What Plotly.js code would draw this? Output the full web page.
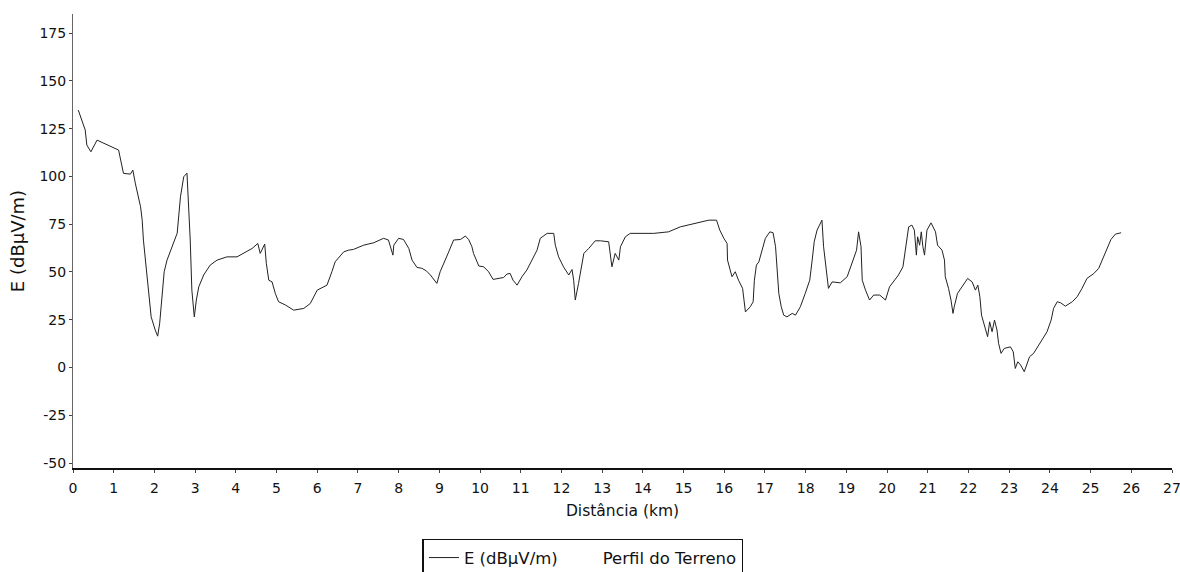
<!DOCTYPE html>
<html>
<head>
<meta charset="utf-8">
<script src="https://cdn.plot.ly/plotly-3.0.1.min.js"></script>
<style>html,body{margin:0;padding:0;background:#fff;}#chart{width:1180px;height:572px;}</style>
</head>
<body>
<div id="chart"></div>
<script>
const distKm = [
  0.13,0.22,0.30,0.34,0.44,0.59,1.12,1.24,1.41,1.47,1.53,1.66,1.70,1.73,1.80,1.86,1.92,2.02,2.08,2.13,
  2.19,2.24,2.31,2.43,2.56,2.64,2.72,2.80,2.84,2.88,2.92,2.98,3.03,3.09,3.21,3.37,3.54,3.78,4.03,4.19,
  4.40,4.54,4.60,4.71,4.75,4.81,4.89,4.97,5.05,5.22,5.42,5.67,5.83,6.00,6.24,6.36,6.44,6.65,6.77,6.89,
  7.14,7.39,7.63,7.75,7.86,7.88,8.00,8.12,8.25,8.33,8.45,8.57,8.68,8.78,8.94,9.02,9.15,9.23,9.35,9.52,
  9.64,9.72,9.80,9.84,9.97,10.09,10.21,10.32,10.58,10.66,10.74,10.81,10.91,11.03,11.15,11.28,11.40,11.48,11.65,11.81,
  11.85,11.93,12.05,12.18,12.26,12.30,12.34,12.42,12.48,12.55,12.67,12.83,12.96,13.16,13.24,13.32,13.41,13.45,13.57,13.69,
  14.27,14.63,14.92,15.33,15.62,15.81,15.89,15.99,16.07,16.08,16.19,16.27,16.35,16.45,16.48,16.52,16.64,16.71,16.74,16.79,
  16.85,16.93,17.01,17.12,17.20,17.26,17.30,17.34,17.40,17.46,17.54,17.67,17.75,17.87,17.99,18.10,18.16,18.21,18.28,18.40,
  18.44,18.51,18.56,18.65,18.85,19.02,19.14,19.25,19.30,19.36,19.39,19.47,19.57,19.67,19.82,19.96,20.06,20.16,20.28,20.39,
  20.45,20.53,20.61,20.67,20.72,20.75,20.80,20.84,20.88,20.92,20.98,21.08,21.19,21.24,21.35,21.41,21.43,21.51,21.57,21.62,
  21.65,21.73,21.84,21.98,22.09,22.17,22.23,22.28,22.32,22.37,22.41,22.47,22.52,22.58,22.64,22.70,22.74,22.80,22.88,23.03,
  23.10,23.13,23.15,23.21,23.28,23.37,23.50,23.60,23.76,23.93,24.03,24.09,24.18,24.26,24.38,24.55,24.67,24.79,24.91,25.08,
  25.20,25.28,25.41,25.50,25.61,25.75
];
const fieldE = [
  134.7,129.5,124.3,116.4,112.9,119.0,113.8,101.6,101.2,103.3,96.5,84.1,77.1,66.7,51.0,38.9,26.5,19.6,16.4,23.2,
  40.5,50.1,56.2,63.2,70.3,89.3,99.8,101.7,84.1,66.7,40.5,26.5,35.3,42.2,48.4,53.6,56.2,57.9,57.9,59.7,
  62.3,64.9,59.7,64.6,54.5,45.7,44.8,38.8,34.4,32.7,30.0,30.9,33.5,40.5,43.1,50.1,55.3,60.5,61.4,61.8,
  64.0,65.3,67.6,66.7,58.8,64.0,67.6,67.0,62.3,56.2,52.4,51.9,50.6,48.4,44.0,50.1,57.1,60.5,66.7,67.0,
  68.8,67.0,63.2,59.7,53.1,52.7,50.1,46.1,47.1,48.9,49.2,45.7,43.1,47.5,51.0,56.2,61.4,67.6,70.2,70.2,
  64.0,57.9,52.7,48.4,51.3,45.7,35.3,44.0,51.0,59.7,62.3,66.3,66.3,65.8,52.7,59.7,56.2,63.2,68.4,70.2,
  70.2,71.0,73.6,75.7,77.1,77.1,71.9,67.6,64.9,56.2,47.5,50.1,45.7,41.4,35.3,29.1,31.8,34.4,45.7,53.6,
  55.3,61.4,67.6,71.0,70.5,63.2,47.5,38.8,31.8,27.4,26.5,28.3,27.4,31.8,38.8,45.7,56.2,65.8,71.9,77.1,
  63.2,49.2,41.4,44.8,44.3,47.5,54.5,61.4,71.0,63.2,45.7,40.5,35.3,37.9,37.9,35.3,42.2,44.8,48.4,52.7,
  61.4,73.6,74.5,71.9,58.8,68.4,64.0,71.0,63.2,58.8,71.9,75.7,71.0,64.0,61.4,56.2,47.5,41.4,35.3,28.3,
  31.8,38.8,42.2,46.6,44.8,40.5,43.1,37.0,27.4,23.9,21.3,16.1,23.9,18.7,24.8,19.6,12.6,7.4,10.0,10.8,
  8.2,3.9,-0.5,3.0,1.3,-2.2,5.6,7.4,12.6,18.7,24.8,30.9,34.4,33.9,32.1,34.4,37.0,41.4,46.6,49.2,
  51.9,56.2,62.3,67.0,69.8,70.5
];
const seriesNames = ["E (dBµV/m)", "Perfil do Terreno"];
const yTickVals = [-50, -25, 0, 25, 50, 75, 100, 125, 150, 175];
const yTickText = ["-50", "-25", "0", "25", "50", "75", "100", "125", "150", "175"];
const xTickVals = [0,1,2,3,4,5,6,7,8,9,10,11,12,13,14,15,16,17,18,19,20,21,22,23,24,25,26,27];

const font = "DejaVu Sans, Arial, sans-serif";
const traces = [
  {x: distKm, y: fieldE, type: "scatter", mode: "lines", name: seriesNames[0],
   line: {color: "#222", width: 1}},
  {x: [null], y: [null], type: "scatter", mode: "lines", name: seriesNames[1],
   line: {color: "rgba(0,0,0,0)", width: 1}}
];
const layout = {
  width: 1180, height: 572,
  margin: {l: 73, r: 8, t: 14, b: 104},
  paper_bgcolor: "#fff", plot_bgcolor: "#fff",
  font: {family: font, size: 14, color: "#111"},
  showlegend: true,
  xaxis: {
    range: [0, 27], tickvals: xTickVals, showgrid: false, zeroline: false,
    showline: true, linecolor: "#111", linewidth: 1.5,
    ticks: "outside", ticklen: 3, tickcolor: "#444",
    ticklabelstandoff: 4, ticklabeloverflow: "allow",
    automargin: false,
    tickfont: {family: font, size: 14, color: "#111"},
    title: {text: "Distância (km)", font: {family: font, size: 15.5, color: "#111"}, standoff: 10}
  },
  yaxis: {
    range: [-52.6, 185], tickvals: yTickVals, ticktext: yTickText, showgrid: false, zeroline: false,
    showline: true, linecolor: "#666", linewidth: 1,
    ticks: "outside", ticklen: 3, tickcolor: "#444",
    automargin: false,
    tickfont: {family: font, size: 14, color: "#111"},
    title: {text: "E (dBµV/m)", font: {family: font, size: 18, color: "#111"}, standoff: 10}
  },
  legend: {
    orientation: "h", xref: "container", yref: "container",
    x: 0.358, xanchor: "left", y: 0.058, yanchor: "top",
    bordercolor: "#111", borderwidth: 1.5, bgcolor: "#fff",
    font: {family: font, size: 16.5, color: "#111"},
    itemwidth: 30, tracegroupgap: 0
  }
};
Plotly.newPlot("chart", traces, layout, {displayModeBar: false, staticPlot: true});
</script>
</body>
</html>
